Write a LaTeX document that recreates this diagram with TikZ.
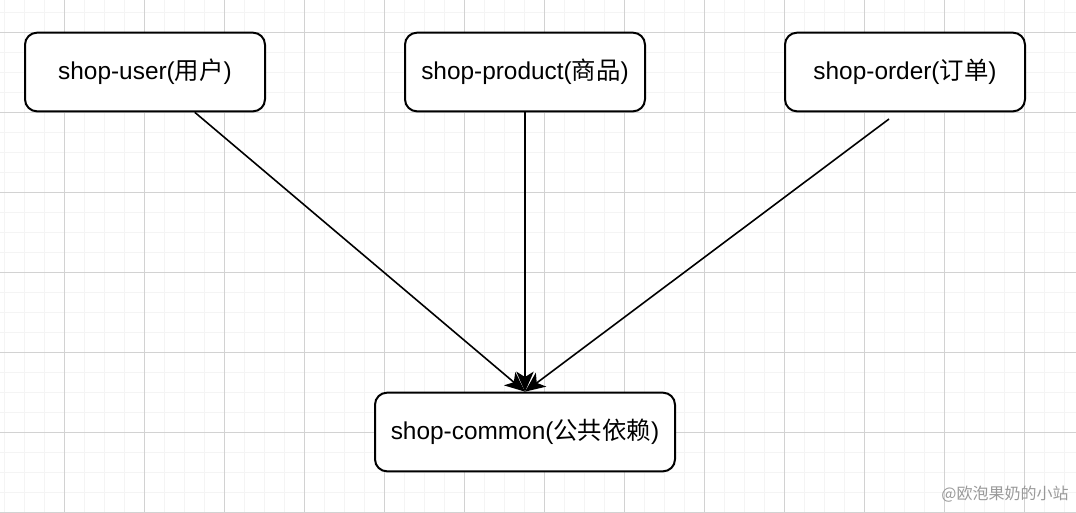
\documentclass[tikz,border=0pt]{standalone}
\usepackage{fontspec}
\setmainfont{Liberation Sans}
\newfontfamily\cjk{Noto Sans CJK SC}
\usetikzlibrary{arrows.meta}
\begin{document}
\begin{tikzpicture}[x=0.75pt, y=-0.75pt,
  box/.style={draw, line width=1.5pt, rounded corners=9pt, fill=white,
    minimum width=180pt, minimum height=59pt, inner sep=0pt,
    font=\fontsize{18.3}{22}\selectfont},
  arr/.style={line width=1.2pt, -{Stealth[length=15pt, width=13pt, inset=4pt]}},
  minor/.style={gray!9, line width=0.75pt},
  major/.style={gray!35, line width=0.75pt}]
\useasboundingbox (0,0) rectangle (1076,512);
\foreach \x in {4,24,...,1076} \draw[minor] (\x,0) -- (\x,512);
\foreach \y in {12,32,...,512} \draw[minor] (0,\y) -- (1076,\y);
\foreach \x in {64,144,...,1076} \draw[major] (\x,0) -- (\x,512);
\foreach \y in {32,112,...,512} \draw[major] (0,\y) -- (1076,\y);
\node[box] (user) at (145,72) {shop-user({\cjk 用户})};
\node[box] (product) at (525,72) {shop-product({\cjk 商品})};
\node[box] (order) at (905,72) {shop-order({\cjk 订单})};
\node[box, minimum width=225pt] (common) at (525,432) {shop-common({\cjk 公共依赖})};
\coordinate (ostart) at (889,119);
\draw[arr] (user.-39.5) -- (common.north);
\draw[arr] (product.south) -- (common.north);
\draw[arr] (ostart) -- (common.north);
\node[gray!80, font=\cjk\fontsize{12}{14}\selectfont] (mark) at (1005,494) {@欧泡果奶的小站};
\end{tikzpicture}
\end{document}
